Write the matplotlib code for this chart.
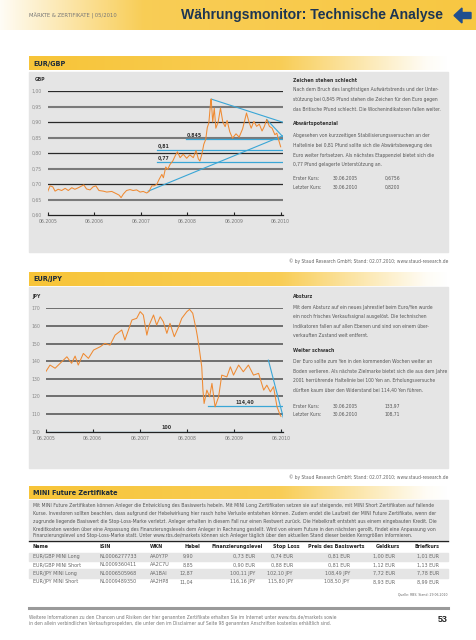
import numpy as np
import matplotlib
matplotlib.use("Agg")
import matplotlib.pyplot as plt
from matplotlib import font_manager
from matplotlib.patches import Polygon

# ---- data -------------------------------------------------------------
# months since 06.2005
gbp_month = [0.0, 0.6, 1.3, 1.9, 2.7, 3.6, 4.5, 5.3, 6.2, 7.0, 7.9, 8.8, 9.3, 10.0,
             10.9, 11.7, 12.4, 13.2, 14.3, 15.2, 16.5, 17.8, 18.4, 18.9, 19.5, 20.3,
             21.2, 22.0, 22.9, 23.8, 24.6, 25.5, 26.1, 26.8, 27.4, 28.1, 28.7, 29.4,
             29.8, 30.4, 30.9, 31.5, 32.2, 32.8, 33.4, 34.1, 34.9, 35.8, 36.6, 37.5,
             38.2, 38.8, 39.2, 39.7, 40.2, 40.7, 41.1, 41.5, 42.0, 42.1, 42.5, 42.9,
             43.3, 43.9, 44.5, 45.1, 45.7, 46.2, 46.9, 47.6, 48.5, 49.3, 50.2, 51.2,
             51.8, 52.4, 53.1, 53.8, 54.5, 55.2, 55.8, 56.4, 57.1, 57.8, 58.5, 59.0,
             59.6, 60.0]
gbp_value = [0.676, 0.694, 0.691, 0.677, 0.683, 0.679, 0.686, 0.679, 0.688, 0.683,
             0.688, 0.694, 0.697, 0.684, 0.681, 0.691, 0.694, 0.679, 0.677, 0.674,
             0.676, 0.668, 0.664, 0.656, 0.668, 0.679, 0.682, 0.679, 0.681, 0.674,
             0.676, 0.671, 0.676, 0.694, 0.694, 0.699, 0.715, 0.731, 0.720, 0.755,
             0.747, 0.763, 0.774, 0.790, 0.804, 0.785, 0.796, 0.783, 0.794, 0.785,
             0.808, 0.781, 0.774, 0.796, 0.828, 0.844, 0.882, 0.897, 0.969, 0.974,
             0.900, 0.945, 0.880, 0.900, 0.945, 0.900, 0.885, 0.905, 0.868, 0.848,
             0.862, 0.851, 0.878, 0.929, 0.902, 0.880, 0.902, 0.886, 0.893, 0.871,
             0.886, 0.908, 0.886, 0.880, 0.859, 0.864, 0.837, 0.820]

jpy_month = [0.0, 1.1, 2.4, 4.1, 5.4, 6.6, 7.5, 8.3, 9.6, 10.9, 12.2, 13.9, 15.1, 16.4,
             17.7, 19.4, 20.2, 21.1, 22.0, 23.2, 24.1, 24.9, 25.8, 26.4, 27.5, 28.3,
             29.2, 30.0, 30.9, 31.7, 32.8, 33.9, 34.7, 36.0, 36.7, 37.5, 38.4, 38.7,
             39.1, 39.8, 40.1, 40.4, 41.1, 41.8, 42.4, 43.2, 44.1, 44.9, 46.2, 47.1,
             47.9, 49.2, 50.4, 51.7, 53.0, 54.3, 55.6, 56.4, 57.3, 58.1, 59.0, 59.8,
             60.0]
jpy_value = [133.97, 137.8, 136.0, 139.7, 142.5, 138.8, 142.9, 137.8, 144.4, 141.6,
             146.3, 148.2, 150.1, 149.1, 154.8, 157.7, 152.0, 157.7, 163.4, 164.3,
             168.1, 166.2, 154.8, 160.5, 166.2, 160.5, 165.2, 162.4, 155.8, 161.5,
             153.9, 159.5, 164.3, 168.1, 169.4, 167.2, 157.7, 153.9, 148.2, 136.8,
             123.6, 116.0, 123.6, 119.8, 127.4, 114.1, 119.8, 132.1, 131.1, 136.8,
             132.1, 137.8, 134.0, 137.8, 132.1, 133.1, 123.6, 126.4, 122.6, 125.5,
             114.1, 109.4, 108.71]

x_labels = ["06.2005", "06.2006", "06.2007", "06.2008", "06.2009", "06.2010"]
gbp_yticks = [0.60, 0.65, 0.70, 0.75, 0.80, 0.85, 0.90, 0.95, 1.00]
gbp_ylabels = ["0,60", "0,65", "0,70", "0,75", "0,80", "0,85", "0,90", "0,95", "1,00"]
jpy_yticks = [100, 110, 120, 130, 140, 150, 160, 170]

# horizontal marks: level, start month, label
gbp_levels = [0.845, 0.81, 0.77]
gbp_level_start = [35.6, 28.1, 28.1]
gbp_level_text = ["0.845", "0,81", "0,77"]
# trend lines (month, value) pairs
gbp_trends = [((25.9, 0.677), (60.6, 0.856)),
              ((42.1, 0.974), (60.6, 0.899)),
              ((56.4, 0.908), (60.6, 0.852))]
jpy_levels = [114.40, 100.0]
jpy_level_start = [41.4, 0.0]
jpy_level_text = ["114,40", "100"]
jpy_level_text_x = [48.5, 29.5]
jpy_trends = [((56.8, 140.6), (60.6, 108.0))]

gbp_text = [("Zeichen stehen schlecht", True),
            ("Nach dem Bruch des langfristigen Aufwärtstrends und der Unter-", False),
            ("stützung bei 0,845 Pfund stehen die Zeichen für den Euro gegen", False),
            ("das Britische Pfund schlecht. Die Wochenindikatoren fallen weiter.", False),
            ("Abwärtspotenzial", True),
            ("Abgesehen von kurzzeitigen Stabilisierungsversuchen an der", False),
            ("Haltelinie bei 0,81 Pfund sollte sich die Abwärtsbewegung des", False),
            ("Euro weiter fortsetzen. Als nächstes Etappenziel bietet sich die", False),
            ("0,77 Pfund gelagerte Unterstützung an.", False)]
gbp_text_y = [80, 89.5, 99.3, 109.2, 123.5, 135, 145, 155, 164.5]
gbp_kurs = [("Erster Kurs:", "30.06.2005", "0,6756"),
            ("Letzter Kurs:", "30.06.2010", "0,8200")]

jpy_text = [("Absturz", True),
            ("Mit dem Absturz auf ein neues Jahrestief beim Euro/Yen wurde", False),
            ("ein noch frisches Verkaufssignal ausgelöst. Die technischen", False),
            ("Indikatoren fallen auf allen Ebenen und sind von einem über-", False),
            ("verkauften Zustand weit entfernt.", False),
            ("Weiter schwach", True),
            ("Der Euro sollte zum Yen in den kommenden Wochen weiter an", False),
            ("Boden verlieren. Als nächste Zielmarke bietet sich die aus dem Jahre", False),
            ("2001 herrührende Haltelinie bei 100 Yen an. Erholungsversuche", False),
            ("dürften kaum über den Widerstand bei 114,40 Yen führen.", False)]
jpy_text_y = [296, 307.7, 316.8, 326, 335.3, 350, 361.7, 371, 380.7, 390]
jpy_kurs = [("Erster Kurs:", "30.06.2005", "133,97"),
            ("Letzter Kurs:", "30.06.2010", "108,71")]

mini_text = [
    "Mit MINI Future Zertifikaten können Anleger die Entwicklung des Basiswerts hebeln. Mit MINI Long Zertifikaten setzen sie auf steigende, mit MINI Short Zertifikaten auf fallende",
    "Kurse. Investoren sollten beachten, dass aufgrund der Hebelwirkung hier rasch hohe Verluste entstehen können. Zudem endet die Laufzeit der MINI Future Zertifikate, wenn der",
    "zugrunde liegende Basiswert die Stop-Loss-Marke verletzt. Anleger erhalten in diesem Fall nur einen Restwert zurück. Die Hebelkraft entsteht aus einem eingebauten Kredit. Die",
    "Kreditkosten werden über eine Anpassung des Finanzierungslevels dem Anleger in Rechnung gestellt. Wird von einem Future in den nächsten gerollt, findet eine Anpassung von",
    "Finanzierungslevel und Stop-Loss-Marke statt. Unter www.rbs.de/markets können sich Anleger täglich über den aktuellen Stand dieser beiden Kerngrößen informieren.",
]
table_head = ["Name", "ISIN", "WKN", "Hebel", "Finanzierungslevel", "Stop Loss",
              "Preis des Basiswerts", "Geldkurs", "Briefkurs"]
table_rows = [
    ["EUR/GBP MINI Long", "NL0006277733", "AA0Y7P", "9,90", "0,73 EUR", "0,74 EUR", "0,81 EUR", "1,00 EUR", "1,01 EUR"],
    ["EUR/GBP MINI Short", "NL0009360411", "AA2C7U", "8,85", "0,90 EUR", "0,88 EUR", "0,81 EUR", "1,12 EUR", "1,13 EUR"],
    ["EUR/JPY MINI Long", "NL0006505968", "AA1BAI", "12,87", "100,11 JPY", "102,10 JPY", "108,49 JPY", "7,72 EUR", "7,78 EUR"],
    ["EUR/JPY MINI Short", "NL0009489350", "AA2HP8", "11,04", "116,16 JPY", "115,80 JPY", "108,50 JPY", "8,93 EUR", "8,99 EUR"],
]

# ---- style ------------------------------------------------------------
names = {f.name for f in font_manager.fontManager.ttflist}
cond = [f for f in font_manager.fontManager.ttflist
        if f.name == "DejaVu Sans" and "ondensed" in str(f.stretch)]
if "Liberation Sans Narrow" in names:
    NFONT = dict(family=["Liberation Sans Narrow", "DejaVu Sans"])
elif cond:
    NFONT = dict(family=["DejaVu Sans"], fontstretch="condensed")
else:
    NFONT = dict(family=["Liberation Sans", "DejaVu Sans"])

ORANGE = "#ef8a32"
BLUE = "#3aa6d6"
PANEL = "#e5e5e5"
YELLOW = np.array([0.97, 0.77, 0.22])
TXT = "#555555"

W, H = 477, 640
fig = plt.figure(figsize=(W / 100, H / 100), dpi=100)
fig.patch.set_facecolor("white")
R = fig.canvas.get_renderer()

bg = fig.add_axes([0, 0, 1, 1])
bg.set_xlim(0, W)
bg.set_ylim(H, 0)
bg.axis("off")


def size_for(s, target, bold=False, font=None):
    """font size that makes text s about target pixels wide"""
    font = font or NFONT
    t = fig.text(0, 0, s, fontsize=10, weight="bold" if bold else "normal", **font)
    w = t.get_window_extent(renderer=R).width
    t.remove()
    return 10 * target / w


def hgrad(x0, x1, y0, y1, stops):
    xs = np.linspace(0, 1, 256)
    img = np.zeros((1, 256, 3))
    for i, f in enumerate(xs):
        w = np.interp(f, [s[0] for s in stops], [s[1] for s in stops])
        img[0, i] = np.ones(3) * (1 - w) + YELLOW * w
    bg.imshow(img, extent=(x0, x1, y1, y0), aspect="auto", zorder=1)


# header band
hgrad(0, W, 0, 30, [(0, 0.05), (0.3, 0.85), (1, 0.95)])
bg.text(29, 15.5, "MÄRKTE & ZERTIFIKATE | 05/2010",
        fontsize=size_for("MÄRKTE & ZERTIFIKATE | 05/2010", 89), color="#777777",
        va="center", **NFONT)
TFONT = dict(family=["Liberation Sans", "DejaVu Sans"])
bg.text(443, 15, "Währungsmonitor: Technische Analyse",
        fontsize=size_for("Währungsmonitor: Technische Analyse", 263, True, TFONT),
        weight="bold", color="#1c3553", ha="right", va="center", **TFONT)
bg.add_patch(Polygon([(454, 15.5), (462, 8), (462, 12.5), (471, 12.5), (471, 18.5),
                      (462, 18.5), (462, 23)], closed=True, color="#1f4f8f", zorder=3))

bar_stops = [(0, 1.0), (0.6, 0.85), (0.95, 0.05), (1, 0.0)]
bar_fs = size_for("EUR/GBP", 32, True)


def section(y0, y1, label, panel_bottom):
    hgrad(29, 448, y0, y1, bar_stops)
    bg.text(33, (y0 + y1) / 2 + 0.5, label, fontsize=bar_fs, weight="bold", color="#1c2a3a",
            va="center", **NFONT)
    bg.add_patch(plt.Rectangle((29, y1 + 1), 419, panel_bottom - y1 - 1, color=PANEL, zorder=0.5))


section(57, 70.5, "EUR/GBP", 252)
section(272, 286, "EUR/JPY", 468)
section(486, 499, "MINI Future Zertifikate", 539)

copy_txt = "© by Staud Research GmbH; Stand: 02.07.2010; www.staud-research.de"
copy_fs = size_for(copy_txt, 162)
bg.text(448, 261, copy_txt, fontsize=copy_fs, color="#666666", ha="right", va="center", **NFONT)
bg.text(448, 477, copy_txt, fontsize=copy_fs, color="#666666", ha="right", va="center", **NFONT)

body_fs = size_for("das Britische Pfund schlecht. Die Wochenindikatoren fallen weiter.", 150)
head_fs = size_for("Zeichen stehen schlecht", 63, True)
kurs_fs = size_for("Erster Kurs:", 26)


def side_text(lines, ys, kurs, kurs_y):
    for (s, bold), y in zip(lines, ys):
        bg.text(293, y, s, fontsize=head_fs if bold else body_fs,
                weight="bold" if bold else "normal",
                color="#333333" if bold else TXT, va="center", **NFONT)
    for (a, b, c), y in zip(kurs, kurs_y):
        for x, s in zip([293, 333, 385], [a, b, c]):
            bg.text(x, y, s, fontsize=kurs_fs, color=TXT, va="center", **NFONT)


side_text(gbp_text, gbp_text_y, gbp_kurs, [178.3, 187.7])
side_text(jpy_text, jpy_text_y, jpy_kurs, [406, 414.5])

tick_fs = size_for("06.2005", 19)
lvl_fs = size_for("0.845", 15, True)


def chart(rect, month, value, ylim, yticks, ylabels, unit, grid_style,
          levels, lstart, ltext, ltext_x, trends, label_dy):
    ax = fig.add_axes(rect)
    ax.set_facecolor("none")
    ax.set_xlim(0, 60.6)
    ax.set_ylim(*ylim)
    for k, t in enumerate(yticks[1:]):
        c, lw = grid_style(k)
        ax.axhline(t, color=c, lw=lw, zorder=1)
    ax.plot(month, value, color=ORANGE, lw=0.75, zorder=3)
    for lv, s, tx, txx in zip(levels, lstart, ltext, ltext_x):
        ax.plot([s, 60.6], [lv, lv], color=BLUE, lw=0.9, zorder=2)
        ax.text(txx, lv + label_dy, tx, fontsize=lvl_fs, weight="bold", color="#333333",
                va="bottom", **NFONT)
    for (a, b) in trends:
        ax.plot([a[0], b[0]], [a[1], b[1]], color=BLUE, lw=0.8, zorder=2)
    for side in ["top", "right", "left"]:
        ax.spines[side].set_visible(False)
    ax.spines["bottom"].set_color("#222222")
    ax.spines["bottom"].set_linewidth(0.9)
    ax.set_xticks([0, 12, 24, 36, 48, 60])
    ax.set_xticklabels(x_labels)
    ax.set_yticks(yticks)
    ax.set_yticklabels(ylabels)
    ax.tick_params(axis="x", direction="in", length=2.5, width=0.8, color="#222222",
                   pad=3, labelsize=tick_fs, labelcolor="#777777")
    ax.tick_params(axis="y", length=0, pad=4, labelsize=tick_fs, labelcolor="#888888")
    for lab in ax.get_xticklabels() + ax.get_yticklabels():
        lab.set_family(NFONT["family"])
        if "fontstretch" in NFONT:
            lab.set_fontstretch(NFONT["fontstretch"])
    ax.text(-0.055, 1.095, unit, transform=ax.transAxes, fontsize=head_fs, weight="bold",
            color="#333333", va="center", **NFONT)
    return ax


gbp_rect = [47.7 / W, 1 - 215 / H, 235.3 / W, 124 / H]
chart(gbp_rect, gbp_month, gbp_value, (0.60, 1.00), gbp_yticks, gbp_ylabels, "GBP",
      lambda k: ("#7a7a7a", 1.5) if k % 2 == 0 else ("#2a2a2a", 0.9),
      gbp_levels, gbp_level_start, gbp_level_text, [s + 0.3 for s in gbp_level_start],
      gbp_trends, 0.004)

jpy_rect = [45.7 / W, 1 - 431.7 / H, 237.6 / W, 123.4 / H]
chart(jpy_rect, jpy_month, jpy_value, (100, 170), jpy_yticks, [str(t) for t in jpy_yticks],
      "JPY", lambda k: ("#5a5a5a", 1.2),
      jpy_levels, jpy_level_start, jpy_level_text, jpy_level_text_x, jpy_trends, 0.8)

# MINI paragraph
mini_fs = size_for(mini_text[0], 406)
for s, y in zip(mini_text, [505, 513, 521, 529, 536]):
    bg.text(33, y, s, fontsize=mini_fs, color=TXT, va="center", **NFONT)

# table
bg.plot([29, 448], [541, 541], color="#222222", lw=1.0)
col_x = [33, 100, 150, 200, 263, 300, 365, 400, 440]
col_ha = ["left", "left", "left", "right", "right", "right", "right", "right", "right"]
val_x = [33, 100, 150, 193, 255, 293, 350, 395, 439]
th_fs = size_for("Preis des Basiswerts", 56, True)
td_fs = size_for("EUR/GBP MINI Short", 48)
for h, x, ha in zip(table_head, col_x, col_ha):
    bg.text(x, 546.5, h, fontsize=th_fs, weight="bold", color="#222222",
            ha=ha, va="center", **NFONT)
row_y = [556.7, 565, 573.4, 581.8]
for i, (row, y) in enumerate(zip(table_rows, row_y)):
    if i % 2 == 0:
        bg.add_patch(plt.Rectangle((29, y - 4.2), 419, 8.4, color=PANEL, zorder=0.5))
    for v, x, ha in zip(row, val_x, col_ha):
        bg.text(x, y, v, fontsize=td_fs, color="#666666", ha=ha, va="center", **NFONT)

bg.text(448, 595, "Quelle: RBS; Stand: 29.06.2010",
        fontsize=size_for("Quelle: RBS; Stand: 29.06.2010", 50), color="#666666",
        ha="right", va="center", **NFONT)
bg.plot([29, 448], [607.5, 607.5], color="#9a9a9a", lw=2.2)
foot1 = "Weitere Informationen zu den Chancen und Risiken der hier genannten Zertifikate erhalten Sie im Internet unter www.rbs.de/markets sowie"
foot2 = "in den allein verbindlichen Verkaufsprospekten, die unter den im Disclaimer auf Seite 98 genannten Anschriften kostenlos erhältlich sind."
foot_fs = size_for(foot1, 308)
bg.text(29, 617, foot1, fontsize=foot_fs, color="#777777", va="center", **NFONT)
bg.text(29, 623, foot2, fontsize=foot_fs, color="#777777", va="center", **NFONT)
bg.text(448, 620, "53", fontsize=6.5, weight="bold", color="#222222",
        ha="right", va="center", **TFONT)

fig.savefig("out.png", dpi=100, facecolor="white")
